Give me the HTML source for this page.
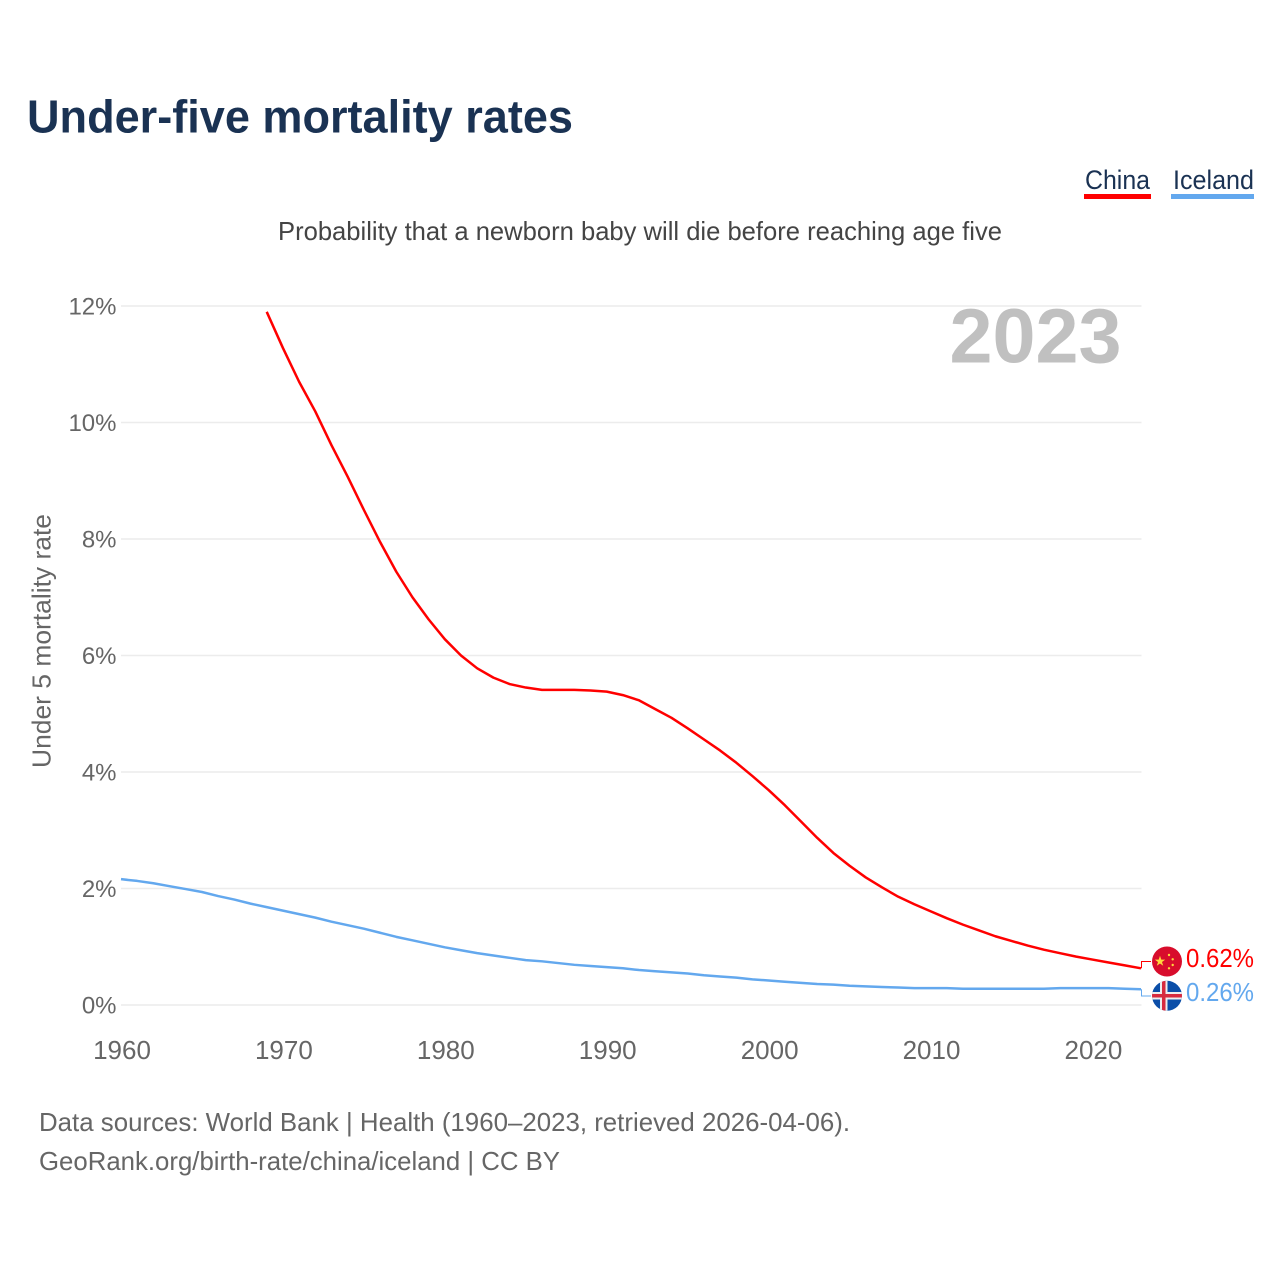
<!DOCTYPE html>
<html lang="en">
<head>
<meta charset="utf-8">
<title>Under-five mortality rates</title>
<style>
html,body{margin:0;padding:0;background:#fff;}
svg{display:block;font-family:"Liberation Sans",Arial,sans-serif;}
</style>
</head>
<body>
<svg id="chart" xmlns="http://www.w3.org/2000/svg" width="1280" height="1280" viewBox="0 0 1280 1280">
  <defs>
    <clipPath id="clip-china"><circle cx="1167" cy="961.5" r="15"/></clipPath>
    <clipPath id="clip-iceland"><circle cx="1167" cy="995.8" r="15"/></clipPath>
  </defs>
  <rect width="1280" height="1280" fill="#fff"/>
  <text x="27" y="132.5" font-size="46" font-weight="700" fill="#1a3253" textLength="546" lengthAdjust="spacingAndGlyphs">Under-five mortality rates</text>

  <g>
    <text x="1085" y="189" font-size="27" fill="#1a3253" textLength="65" lengthAdjust="spacingAndGlyphs">China</text>
    <rect x="1084" y="194" width="67" height="5" fill="#ff0000"/>
  </g>
  <g>
    <text x="1173" y="189" font-size="27" fill="#1a3253" textLength="81" lengthAdjust="spacingAndGlyphs">Iceland</text>
    <rect x="1171" y="194" width="83" height="5" fill="#63a8ee"/>
  </g>

  <text x="278" y="240" font-size="26" fill="#444" textLength="724" lengthAdjust="spacingAndGlyphs">Probability that a newborn baby will die before reaching age five</text>

  <g id="grid"></g>
  <g id="y-ticks"></g>
  <g id="x-ticks"></g>

  <text x="949.5" y="362.5" font-size="77" font-weight="700" fill="#c0c0c0" textLength="172" lengthAdjust="spacingAndGlyphs">2023</text>

  <text transform="translate(50.5 768) rotate(-90)" font-size="26" fill="#666" textLength="254" lengthAdjust="spacingAndGlyphs">Under 5 mortality rate</text>

  <g id="series"></g>

  <g clip-path="url(#clip-china)">
    <rect x="1152" y="946" width="30" height="31" fill="#d80d2c"/>
    <polygon fill="#ffd83d" points="1160,955.8 1161.3,959.6 1165.2,959.6 1162,962 1163.2,965.8 1160,963.5 1156.8,965.8 1158,962 1154.8,959.6 1158.7,959.6"/>
    <circle cx="1169" cy="955" r="1.2" fill="#ffd83d"/>
    <circle cx="1172.7" cy="959.3" r="1.2" fill="#ffd83d"/>
    <circle cx="1172.7" cy="965" r="1.2" fill="#ffd83d"/>
    <circle cx="1169" cy="968.3" r="1.2" fill="#ffd83d"/>
  </g>
  <g clip-path="url(#clip-iceland)">
    <rect x="1152" y="980" width="30" height="31" fill="#0b4ea8"/>
    <rect x="1160" y="980" width="7.5" height="31" fill="#eee"/>
    <rect x="1152" y="992" width="30" height="7.5" fill="#eee"/>
    <rect x="1162" y="980" width="3.5" height="31" fill="#d72b3f"/>
    <rect x="1152" y="994" width="30" height="3.5" fill="#d72b3f"/>
  </g>

  <g id="end-labels"></g>

  <text x="39" y="1131" font-size="26" fill="#666" textLength="811" lengthAdjust="spacingAndGlyphs">Data sources: World Bank | Health (1960–2023, retrieved 2026-04-06).</text>
  <text x="39" y="1170" font-size="26" fill="#666" textLength="521" lengthAdjust="spacingAndGlyphs">GeoRank.org/birth-rate/china/iceland | CC BY</text>
</svg>
<script>
const yTickValues = [0, 2, 4, 6, 8, 10, 12];
const yTickLabels = ["0%", "2%", "4%", "6%", "8%", "10%", "12%"];
const xTickYears = [1960, 1970, 1980, 1990, 2000, 2010, 2020];
const chinaStartYear = 1969;
const chinaValues = [11.9, 11.28, 10.7, 10.19, 9.61, 9.07, 8.5, 7.95, 7.44, 7.0, 6.62, 6.28, 6.0, 5.78, 5.62, 5.51, 5.45, 5.41, 5.41, 5.41, 5.40, 5.38, 5.32, 5.23, 5.08, 4.93, 4.75, 4.56, 4.37, 4.16, 3.93, 3.69, 3.43, 3.15, 2.87, 2.61, 2.39, 2.19, 2.02, 1.86, 1.73, 1.61, 1.49, 1.38, 1.28, 1.18, 1.1, 1.02, 0.95, 0.89, 0.83, 0.78, 0.73, 0.68, 0.63];
const icelandStartYear = 1960;
const icelandValues = [2.16, 2.13, 2.09, 2.04, 1.99, 1.94, 1.87, 1.81, 1.74, 1.68, 1.62, 1.56, 1.5, 1.43, 1.37, 1.31, 1.24, 1.17, 1.11, 1.05, 0.99, 0.94, 0.89, 0.85, 0.81, 0.77, 0.75, 0.72, 0.69, 0.67, 0.65, 0.63, 0.6, 0.58, 0.56, 0.54, 0.51, 0.49, 0.47, 0.44, 0.42, 0.4, 0.38, 0.36, 0.35, 0.33, 0.32, 0.31, 0.3, 0.29, 0.29, 0.29, 0.28, 0.28, 0.28, 0.28, 0.28, 0.28, 0.29, 0.29, 0.29, 0.29, 0.28, 0.27];
const endLabels = ["0.62%", "0.26%"];

const SVG_NS = "http://www.w3.org/2000/svg";
const X0 = 121, X1 = 1141, Y0 = 1005, Y12 = 306;
function xScale(year) { return X0 + (year - 1960) * (X1 - X0) / 63; }
function yScale(value) { return Y0 - value * (Y0 - Y12) / 12; }

function make(tag, attrs, parent, text) {
  const el = document.createElementNS(SVG_NS, tag);
  for (const k in attrs) el.setAttribute(k, attrs[k]);
  if (text !== undefined) el.textContent = text;
  parent.appendChild(el);
  return el;
}

const grid = document.getElementById("grid");
const yTicks = document.getElementById("y-ticks");
const xTicks = document.getElementById("x-ticks");
const series = document.getElementById("series");
const endGroup = document.getElementById("end-labels");

yTickValues.forEach(function (v, i) {
  const line = make("line", { x1: X0, x2: X1 + 0.5, y1: yScale(v), y2: yScale(v), stroke: "#ececec", "stroke-width": 1.5 }, grid);
  
  
  const label = make("text", { x: 116.5, y: yScale(v) + 8.5, "text-anchor": "end", "font-size": 24, fill: "#666" }, yTicks, yTickLabels[i]);
  
  
});

xTickYears.forEach(function (yr) {
  const label = make("text", { x: xScale(yr) + 1, y: 1059, "text-anchor": "middle", "font-size": 26, fill: "#666" }, xTicks, String(yr));
  
  
});

function linePoints(values, startYear) {
  return values.map(function (v, i) {
    return xScale(startYear + i).toFixed(2) + "," + yScale(v).toFixed(2);
  }).join(" ");
}

function drawSeries(values, startYear, color, name, flagY, labelText, labelY) {
  const line = make("polyline", { points: linePoints(values, startYear), fill: "none", stroke: color, "stroke-width": 2.5, "stroke-linejoin": "round" }, series);
  
  
  const endY = yScale(values[values.length - 1]);
  const conn = make("polyline", { points: (X1 + 0.5) + "," + endY.toFixed(2) + " " + (X1 + 0.5) + "," + flagY + " " + (X1 + 10) + "," + flagY, fill: "none", stroke: color, "stroke-width": 1 }, series);
  
  
  const label = make("text", { x: 1186, y: labelY, "font-size": 26, fill: color, textLength: 68, lengthAdjust: "spacingAndGlyphs" }, endGroup, labelText);
  
  
}

drawSeries(icelandValues, icelandStartYear, "#63a8ee", "iceland", 996, endLabels[1], 1001);
drawSeries(chinaValues, chinaStartYear, "#ff0000", "china", 961.5, endLabels[0], 967);
</script>
</body>
</html>
